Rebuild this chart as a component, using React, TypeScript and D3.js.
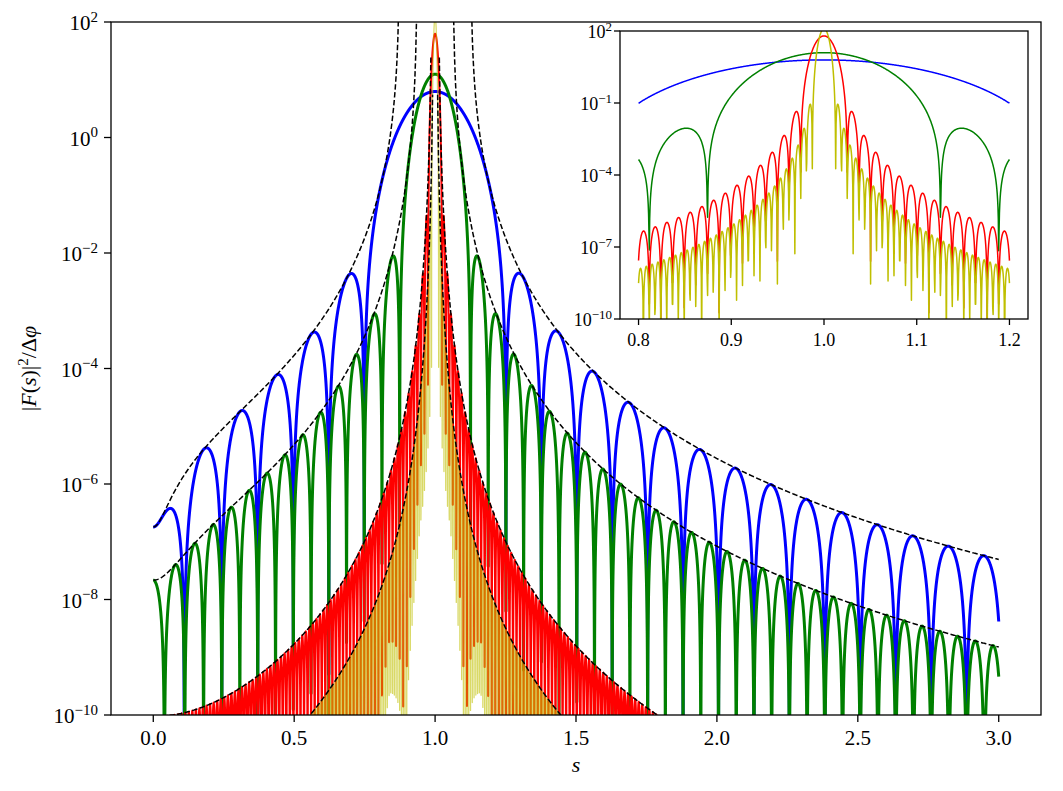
import React from "react";
import * as d3 from "d3";

// phase span of each window (radians) and its colour
const phaseSpans = [50, 100, 500, 1000];
const lineColors = ["#0000ff", "#008000", "#ff0000", "#bfbf00"];
const mainTicksX = [0, 0.5, 1, 1.5, 2, 2.5, 3];
const mainTicksY = [-10, -8, -6, -4, -2, 0, 2];
const insetTicksX = [0.8, 0.9, 1.0, 1.1, 1.2];
const insetTicksY = [-10, -7, -4, -1, 2];
const mainRange = [0, 3];
const insetRange = [0.8, 1.2];
const mainSamples = 10000;
const insetSamples = 1000;

const W = 1063;
const H = 791;
const FONT = "'Liberation Serif', 'DejaVu Serif', serif";

function linspace(a: number, b: number, n: number) {
  return d3.range(n).map((i) => a + ((b - a) * i) / (n - 1));
}

// Hann window transform, window centred on zero
function hannR(w: number, L: number) {
  const x = (w * L) / 2;
  if (Math.abs(x) < 1e-9) return L / 2;
  const d = 1 - (x / Math.PI) ** 2;
  if (Math.abs(d) < 1e-9) return L / 4;
  return ((L / 2) * Math.sin(x)) / x / d;
}

// same with |sin| -> 1, sign kept
function hannA(w: number, L: number) {
  const x = (w * L) / 2;
  const d = 1 - (x / Math.PI) ** 2;
  return L / 2 / (x * d);
}

function spectrum(s: number, L: number) {
  const r = hannR(s - 1, L) + hannR(s + 1, L);
  return (r * r) / (2 * L);
}

function envelope(s: number, L: number) {
  const a1 = hannA(s - 1, L);
  const a2 = hannA(s + 1, L);
  return (a1 * a1 + a2 * a2 + 2 * a1 * a2 * Math.cos(L)) / (2 * L);
}

const clampV = (v: number) => Math.min(Math.max(v, 1e-18), 1e6);

function SupLabel({ x, y, exp, size, supSize, anchor = "end" }: any) {
  return (
    <text x={x} y={y} fontFamily={FONT} fontSize={size} textAnchor={anchor} fill="#000">
      10
      <tspan dy={-0.4 * size} fontSize={supSize}>
        {exp < 0 ? "\u2212" + Math.abs(exp) : exp}
      </tspan>
    </text>
  );
}

export default function App() {
  // main axes
  const m = { left: 111, right: 1041, top: 22, bottom: 715 };
  const x = d3.scaleLinear().domain([-0.15, 3.15]).range([m.left, m.right]);
  const y = d3.scaleLog().domain([1e-10, 1e2]).range([m.bottom, m.top]);

  // inset axes
  const n = { left: 620, right: 1028, top: 31, bottom: 319 };
  const xi = d3.scaleLinear().domain([0.78, 1.22]).range([n.left, n.right]);
  const yi = d3.scaleLog().domain([1e-10, 1e2]).range([n.bottom, n.top]);

  const sMain = linspace(mainRange[0], mainRange[1], mainSamples);
  const sInset = linspace(insetRange[0], insetRange[1], insetSamples);

  const mainLine = d3
    .line<[number, number]>()
    .x((d) => x(d[0]))
    .y((d) => y(clampV(d[1])));
  const insetLine = d3
    .line<[number, number]>()
    .x((d) => xi(d[0]))
    .y((d) => yi(clampV(d[1])));

  const mainWidths = [3, 3, 2, 1.3];
  const mainOpacity = [1, 1, 1, 0.6];

  const curves = phaseSpans.map((L) => sMain.map((s) => [s, spectrum(s, L)] as [number, number]));
  const insetCurves = phaseSpans.map((L) => sInset.map((s) => [s, spectrum(s, L)] as [number, number]));

  // envelope only outside the main lobe
  const envs: [number, number][][] = [];
  phaseSpans.forEach((L) => {
    const lim = (2 * Math.PI) / L;
    const sEnv = linspace(mainRange[0], mainRange[1], 1000);
    envs.push(sEnv.filter((s) => s < 1 - lim).map((s) => [s, envelope(s, L)] as [number, number]));
    envs.push(sEnv.filter((s) => s > 1 + lim).map((s) => [s, envelope(s, L)] as [number, number]));
  });

  return (
    <svg
      width={W}
      height={H}
      style={{ position: "absolute", left: 0, top: 0, background: "#fff" }}
    >
      <defs>
        <clipPath id="clipMain">
          <rect x={m.left} y={m.top} width={m.right - m.left} height={m.bottom - m.top} />
        </clipPath>
        <clipPath id="clipInset">
          <rect x={n.left} y={n.top} width={n.right - n.left} height={n.bottom - n.top} />
        </clipPath>
      </defs>
      <rect x={0} y={0} width={W} height={H} fill="#fff" />

      {/* main curves */}
      <g clipPath="url(#clipMain)">
        {curves.map((c, i) => (
          <path
            key={i}
            d={mainLine(c) || ""}
            fill="none"
            stroke={lineColors[i]}
            strokeWidth={mainWidths[i]}
            strokeOpacity={mainOpacity[i]}
            strokeLinejoin="round"
          />
        ))}
        {envs.map((c, i) => (
          <path
            key={"e" + i}
            d={mainLine(c) || ""}
            fill="none"
            stroke="#000"
            strokeWidth={1.5}
            strokeDasharray="5.5,2.4"
          />
        ))}
      </g>

      {/* main frame */}
      <rect
        x={m.left}
        y={m.top}
        width={m.right - m.left}
        height={m.bottom - m.top}
        fill="none"
        stroke="#000"
        strokeWidth={1.3}
      />
      {mainTicksX.map((t) => (
        <g key={"mx" + t}>
          <line x1={x(t)} x2={x(t)} y1={m.bottom} y2={m.bottom + 7} stroke="#000" strokeWidth={1.3} />
          <text x={x(t)} y={m.bottom + 30} textAnchor="middle" fontFamily={FONT} fontSize={21}>
            {t.toFixed(1)}
          </text>
        </g>
      ))}
      {mainTicksY.map((e) => (
        <g key={"my" + e}>
          <line x1={m.left - 7} x2={m.left} y1={y(10 ** e)} y2={y(10 ** e)} stroke="#000" strokeWidth={1.3} />
          <SupLabel x={m.left - 13} y={y(10 ** e) + 8} exp={e} size={21} supSize={15} />
        </g>
      ))}
      <text x={(m.left + m.right) / 2} y={772} textAnchor="middle" fontFamily={FONT} fontSize={22} fontStyle="italic">
        s
      </text>
      <text
        transform={`translate(36,${(m.top + m.bottom) / 2}) rotate(-90)`}
        textAnchor="middle"
        fontFamily={FONT}
        fontSize={22}
      >
        |<tspan fontStyle="italic">F</tspan>(<tspan fontStyle="italic">s</tspan>)|
        <tspan dy={-8} fontSize={15}>2</tspan>
        <tspan dy={8}>/Δ</tspan>
        <tspan fontStyle="italic">φ</tspan>
      </text>

      {/* inset */}
      <rect x={n.left} y={n.top} width={n.right - n.left} height={n.bottom - n.top} fill="#fff" />
      <g clipPath="url(#clipInset)">
        {insetCurves.map((c, i) => (
          <path
            key={"i" + i}
            d={insetLine(c) || ""}
            fill="none"
            stroke={lineColors[i]}
            strokeWidth={1.5}
            strokeLinejoin="round"
          />
        ))}
      </g>
      <rect
        x={n.left}
        y={n.top}
        width={n.right - n.left}
        height={n.bottom - n.top}
        fill="none"
        stroke="#000"
        strokeWidth={1.3}
      />
      {insetTicksX.map((t) => (
        <g key={"ix" + t}>
          <line x1={xi(t)} x2={xi(t)} y1={n.bottom} y2={n.bottom + 6} stroke="#000" strokeWidth={1.3} />
          <text x={xi(t)} y={n.bottom + 27} textAnchor="middle" fontFamily={FONT} fontSize={18}>
            {t.toFixed(1)}
          </text>
        </g>
      ))}
      {insetTicksY.map((e) => (
        <g key={"iy" + e}>
          <line x1={n.left - 6} x2={n.left} y1={yi(10 ** e)} y2={yi(10 ** e)} stroke="#000" strokeWidth={1.3} />
          <SupLabel x={n.left - 8} y={yi(10 ** e) + 7} exp={e} size={18} supSize={13} />
        </g>
      ))}
    </svg>
  );
}
